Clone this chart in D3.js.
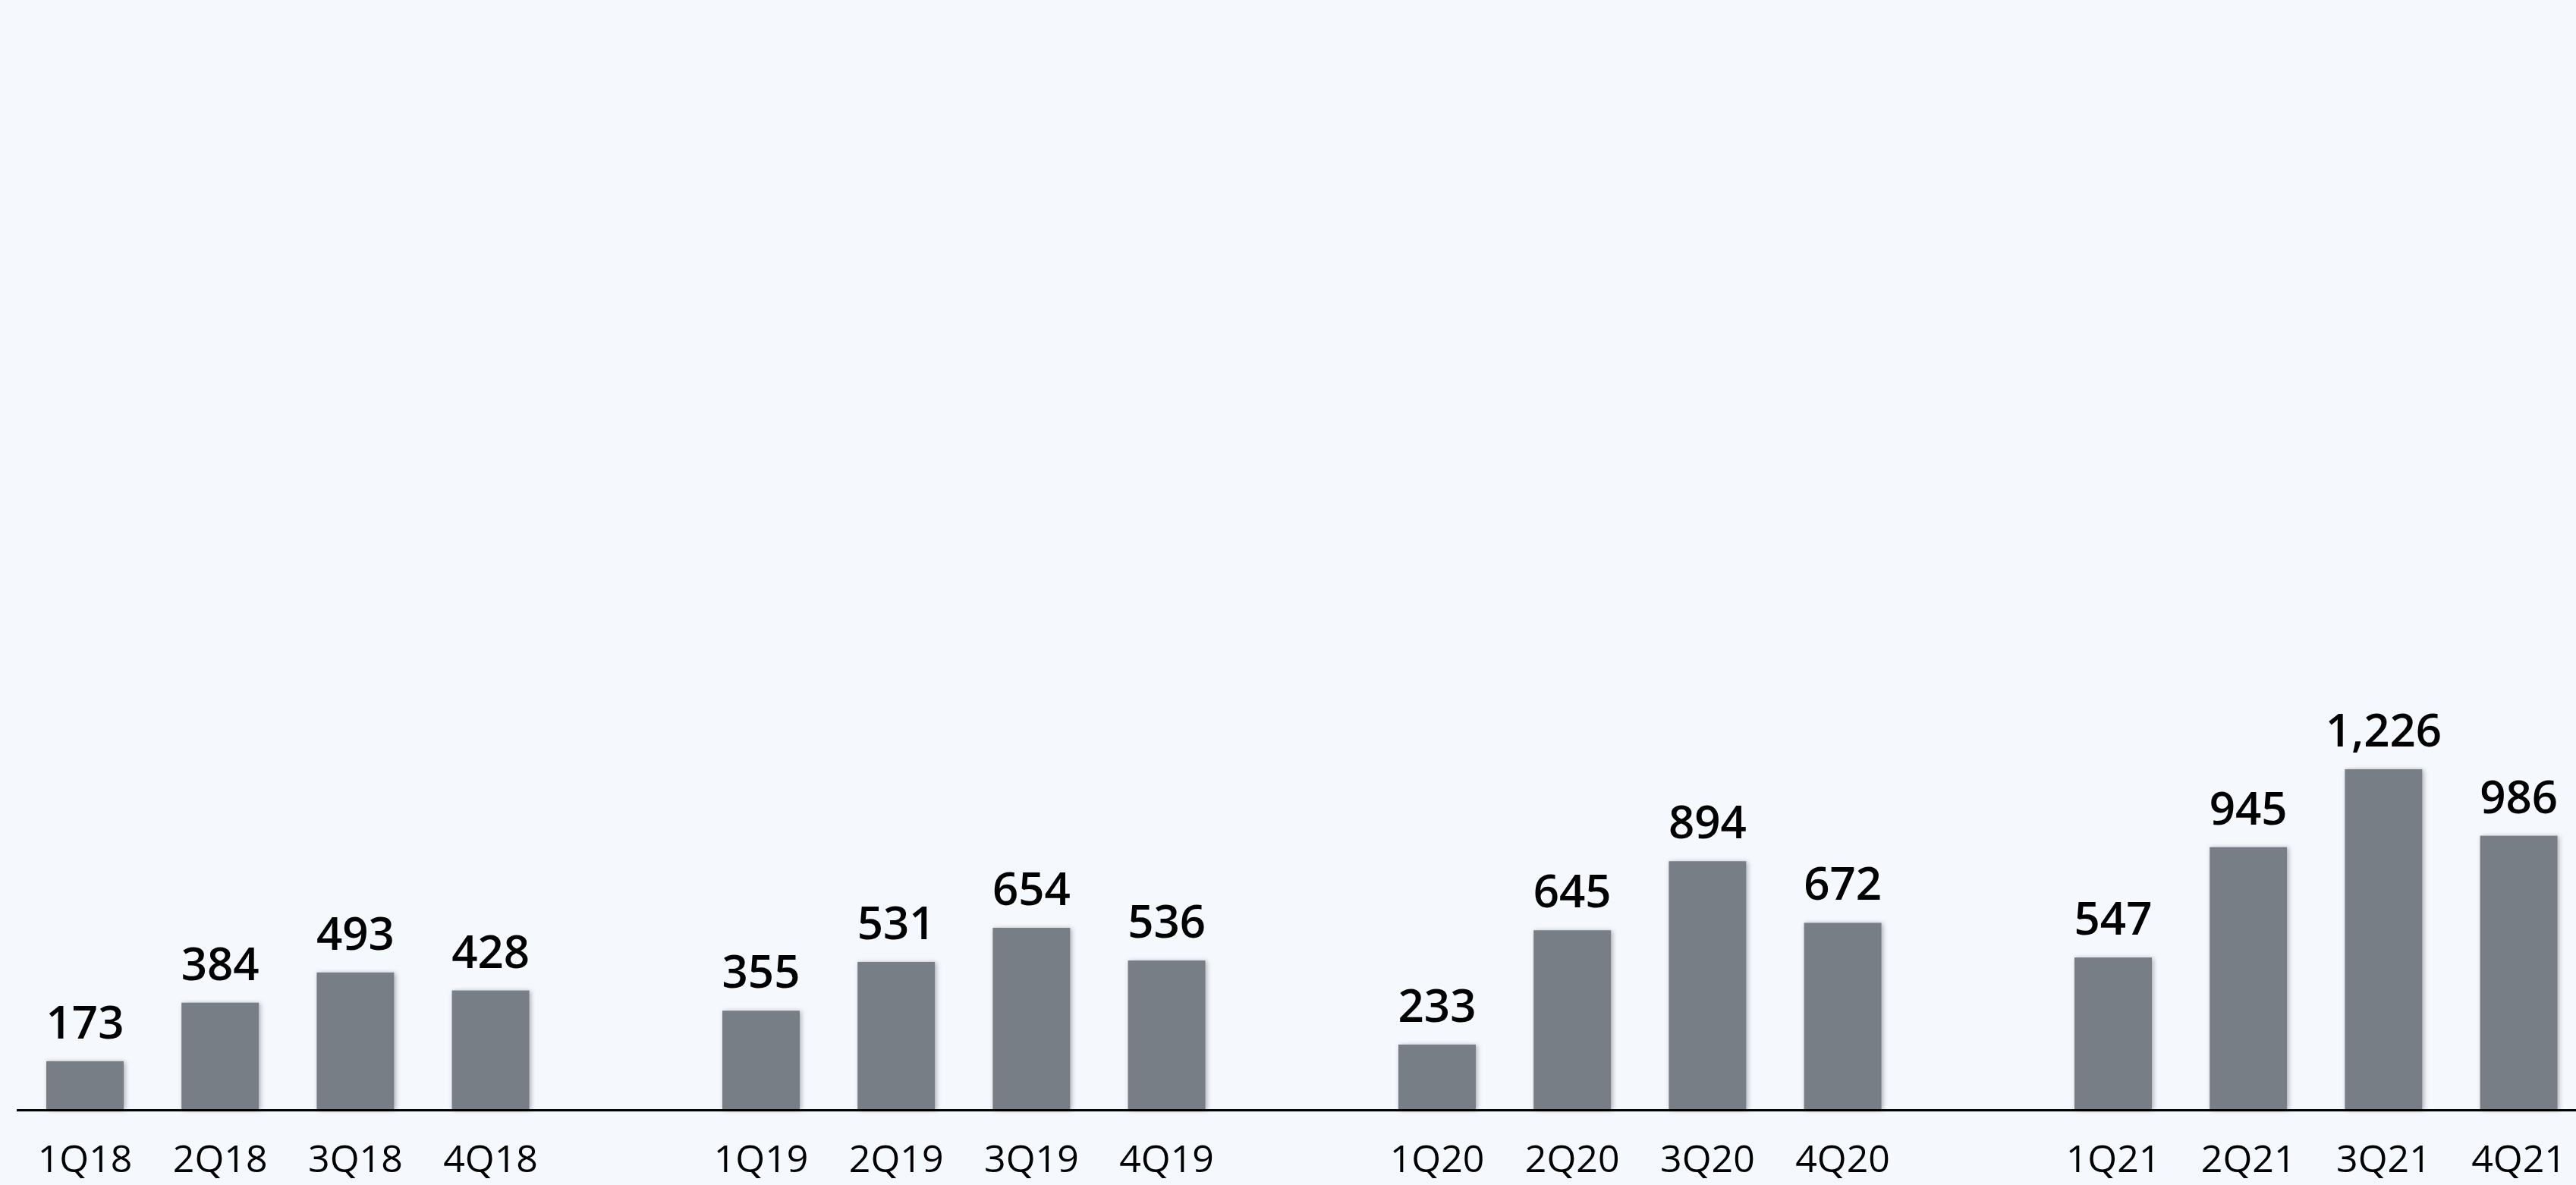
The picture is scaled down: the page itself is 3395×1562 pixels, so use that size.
<!DOCTYPE html>
<html>
<head>
<meta charset="utf-8">
<script src="https://cdn.jsdelivr.net/npm/d3@7"></script>
<style>
  html, body { margin: 0; padding: 0; background: #f5f8fd; }
  svg { display: block; }
</style>
</head>
<body>
<svg id="chart" width="3395" height="1562"></svg>
<script>
// Quarterly values, grouped by year
const years = ["18", "19", "20", "21"];
const quarters = ["1Q", "2Q", "3Q", "4Q"];
const categories = [
  "1Q18", "2Q18", "3Q18", "4Q18",
  "1Q19", "2Q19", "3Q19", "4Q19",
  "1Q20", "2Q20", "3Q20", "4Q20",
  "1Q21", "2Q21", "3Q21", "4Q21"
];
const values = [
  173, 384, 493, 428,
  355, 531, 654, 536,
  233, 645, 894, 672,
  547, 945, 1226, 986
];

const W = 3395, H = 1562;
const baseY = 1462;

// Slot keys: each year's four quarters followed by an empty spacer slot
const slots = [];
years.forEach((y, i) => {
  quarters.forEach(q => slots.push(q + y));
  if (i < years.length - 1) slots.push("gap" + y);
});

const x = d3.scaleBand()
  .domain(slots)
  .range([61, 61 + 178.2 * (slots.length - 0.4276)])
  .paddingInner(0.4276)
  .paddingOuter(0);

const y = d3.scaleLinear().domain([0, 4000]).range([baseY, 0]);

const svg = d3.select("#chart");

svg.append("rect").attr("width", W).attr("height", H).attr("fill", "#f5f8fd");

const defs = svg.append("defs");
const f = defs.append("filter").attr("id", "barShadow")
  .attr("x", "-20%").attr("y", "-20%").attr("width", "140%").attr("height", "140%");
f.append("feDropShadow")
  .attr("dx", 2).attr("dy", 1).attr("stdDeviation", 3)
  .attr("flood-color", "#000").attr("flood-opacity", 0.3);

const data = categories.map((c, i) => ({ cat: c, value: values[i] }));

// Bars
svg.append("g").selectAll("rect")
  .data(data)
  .join("rect")
  .attr("x", d => x(d.cat))
  .attr("y", d => y(d.value))
  .attr("width", x.bandwidth())
  .attr("height", d => baseY - y(d.value))
  .attr("fill", "#787e86")
  .attr("filter", "url(#barShadow)");

// Value labels
const fmt = d3.format(",");
svg.append("g").selectAll("text")
  .data(data)
  .join("text")
  .attr("x", d => x(d.cat) + x.bandwidth() / 2)
  .attr("y", d => y(d.value) - 30)
  .attr("text-anchor", "middle")
  .attr("font-family", "'Open Sans', sans-serif")
  .attr("font-weight", 600)
  .attr("font-size", 60)
  .attr("fill", "#000")
  .text(d => fmt(d.value));

// Baseline axis
const xAxis = d3.axisBottom(x)
  .tickValues(categories)
  .tickSize(0)
  .tickPadding(0);

const axisG = svg.append("g")
  .attr("transform", `translate(0,${baseY})`)
  .call(xAxis);
axisG.select(".domain").remove();
axisG.selectAll(".tick text")
  .attr("y", 83)
  .attr("dy", 0)
  .attr("font-family", "'Open Sans', sans-serif")
  .attr("font-weight", 400)
  .attr("font-size", 50)
  .attr("fill", "#000");

axisG.append("line")
  .attr("x1", 22).attr("x2", W)
  .attr("y1", 1.5).attr("y2", 1.5)
  .attr("stroke", "#000")
  .attr("stroke-width", 3);
</script>
</body>
</html>
